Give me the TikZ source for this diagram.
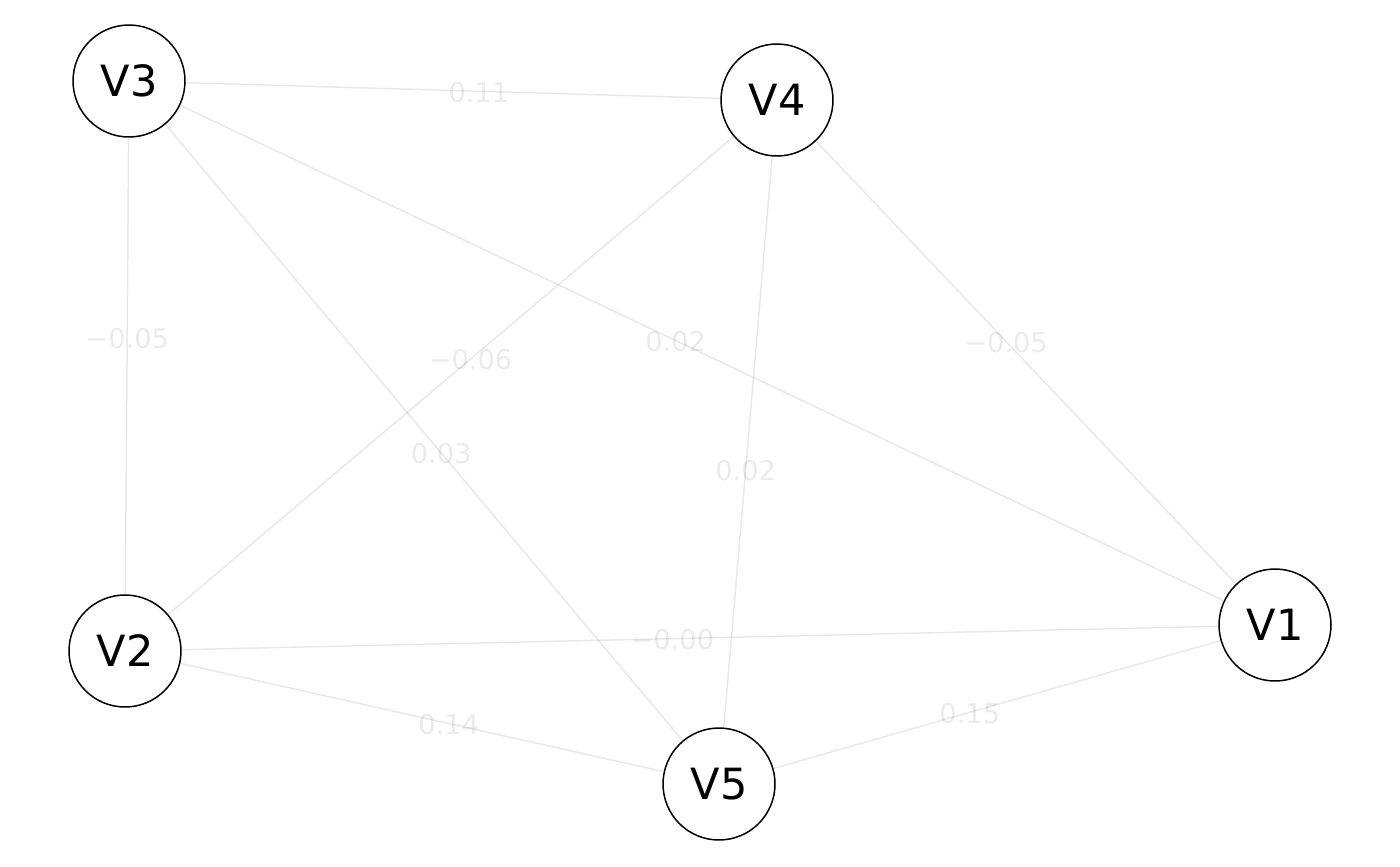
\documentclass[tikz,border=0pt]{standalone}
\usepackage{fontspec}
\setmainfont{DejaVu Sans}
\usepackage{tikz}
\usepackage{xcolor}
\usetikzlibrary{calc}

\begin{document}
\begin{tikzpicture}[x=0.02cm, y=-0.02cm,
		vertex/.style={draw, circle, line width=0.85pt, minimum size=2.24cm, inner sep=0pt, font=\fontsize{24.5}{29}\selectfont},
		edge/.style={draw=black, draw opacity=0.09, line width=0.85pt},
		weight/.style={text=black, text opacity=0.08, inner sep=0pt, font=\fontsize{15.5}{18}\selectfont}]
		\useasboundingbox (0,0) rectangle (1400,866);
		%
		%Knoten
		\node[vertex] (v3) at (129, 81) {V3};
		\node[vertex] (v4) at (777, 100) {V4};
		\node[vertex] (v2) at (125, 651) {V2};
		\node[vertex] (v5) at (719, 784) {V5};
		\node[vertex] (v1) at (1275, 625) {V1};
		%
		%Kanten
		\draw[edge] (v3) -- (v4);
		\draw[edge] (v3) -- (v2);
		\draw[edge] (v4) -- (v2);
		\draw[edge] (v3) -- (v1);
		\draw[edge] (v4) -- (v1);
		\draw[edge] (v3) -- (v5);
		\draw[edge] (v4) -- (v5);
		\draw[edge] (v2) -- (v1);
		\draw[edge] (v2) -- (v5);
		\draw[edge] (v5) -- (v1);
		%
		%Gewichte
		\node[weight] (w34) at ($(v3)!0.54!(v4)+(0,1)$) {0.11};
		\node[weight] (w32) at ($(v3)!0.45!(v2)+(0,1)$) {−0.05};
		\node[weight] (w42) at ($(v4)!0.47!(v2)+(0,1)$) {−0.06};
		\node[weight] (w31) at ($(v3)!0.477!(v1)+(0,1)$) {0.02};
		\node[weight] (w41) at ($(v4)!0.46!(v1)+(0,1)$) {−0.05};
		\node[weight] (w35) at ($(v3)!0.529!(v5)+(0,1)$) {0.03};
		\node[weight] (w45) at ($(v4)!0.54!(v5)+(0,1)$) {0.02};
		\node[weight] (w21) at ($(v2)!0.476!(v1)+(0,1)$) {−0.00};
		\node[weight] (w25) at ($(v2)!0.545!(v5)+(0,1)$) {0.14};
		\node[weight] (w51) at ($(v5)!0.451!(v1)+(0,1)$) {0.15};
	\end{tikzpicture}
\end{document}
